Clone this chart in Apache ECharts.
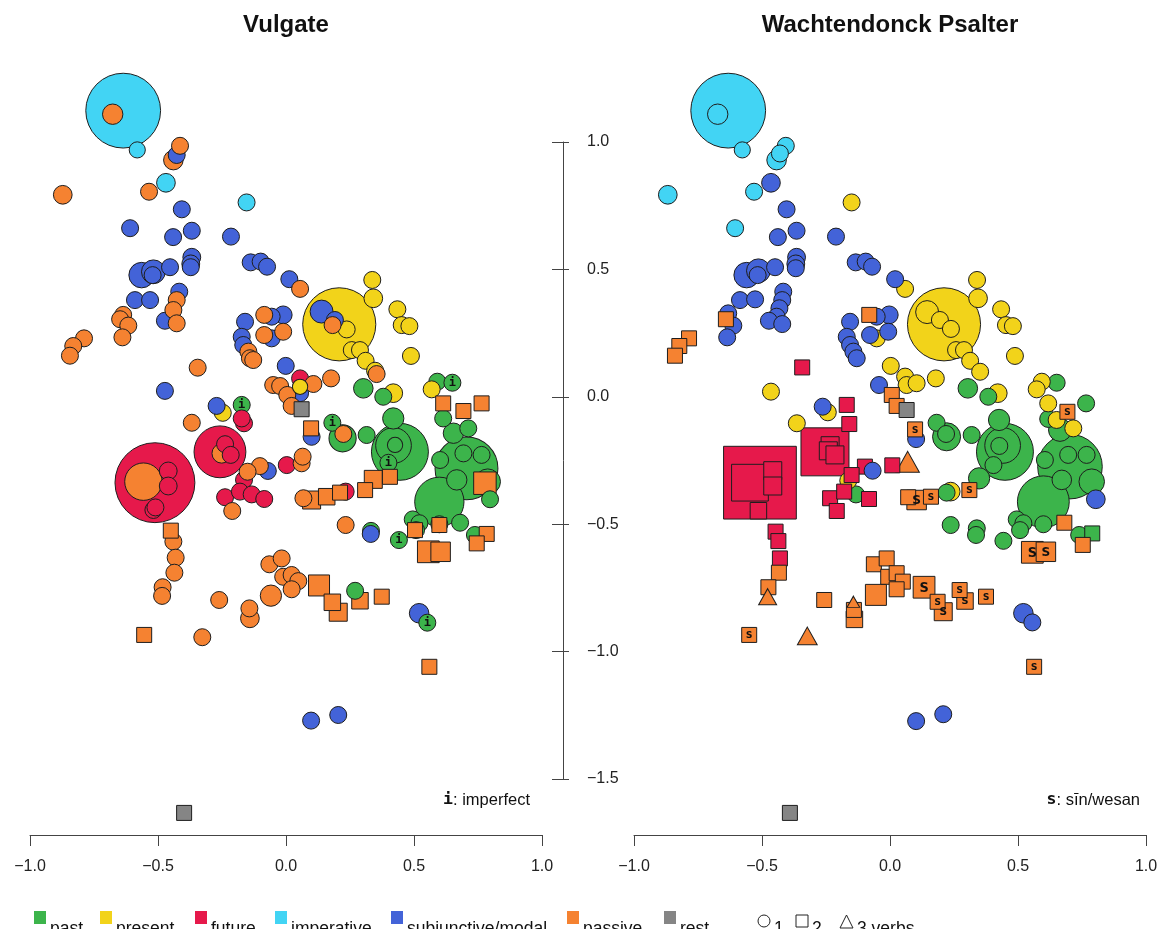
<!DOCTYPE html>
<html><head><meta charset="utf-8">
<script src="https://cdn.jsdelivr.net/npm/echarts@6/dist/echarts.min.js"></script>
<style>html,body{margin:0;padding:0;background:#fff}#c{width:1166px;height:929px}</style>
</head><body><div id="c"></div>
<script>
// ---- data ----
const panelTitles = ['Vulgate', 'Wachtendonck Psalter'];
const categories = ['past', 'present', 'future', 'imperative', 'subjunctive/modal', 'passive', 'rest'];
const verbLegend = ['1', '2', '3 verbs'];
const xTicks = [-1, -0.5, 0, 0.5, 1];
const yTicks = [-1.5, -1, -0.5, 0, 0.5, 1];
// each point: [x, y, relative size (cex), number of verbs (1 circle, 2 square, 3 triangle), mark]
const vulPast = [
 [0.302,0.034,1.15,1],[0.380,0.001,1,1],[0.591,0.060,1,1],[0.650,0.056,1,1,'i'],
 [-0.173,-0.031,1,1,'i'],[0.181,-0.101,1,1,'i'],[0.221,-0.162,1.6,1],[0.315,-0.149,1,1],
 [0.419,-0.084,1.25,1],[0.445,-0.215,3.35,1],[0.42,-0.19,2.1,1],[0.426,-0.188,0.9,1],[0.400,-0.258,1,1,'i'],
 [0.705,-0.280,3.7,1],[0.599,-0.411,2.9,1],[0.667,-0.325,1.2,1],[0.602,-0.247,1,1],
 [0.693,-0.221,1,1],[0.764,-0.227,1,1],[0.614,-0.084,1,1],[0.654,-0.142,1.2,1],
 [0.712,-0.123,1,1],[0.797,-0.401,1,1],[0.680,-0.493,1,1],[0.738,-0.541,1,1],
 [0.495,-0.480,1,1],[0.521,-0.495,1,1],[0.508,-0.522,1,1],[0.599,-0.499,1,1],
 [0.441,-0.561,1,1,'i'],[0.552,-0.885,1,1,'i'],[0.270,-0.760,1,1],[0.332,-0.525,1,1],
 [0.788,-0.332,1.5,1]
];
const vulPresent = [
 [0.208,0.285,4.3,1],[0.237,0.265,1,1],[0.337,0.459,1,1],[0.341,0.387,1.1,1],
 [0.435,0.344,1,1],[0.452,0.282,1,1],[0.482,0.278,1,1],[0.257,0.184,1,1],
 [0.289,0.184,1,1],[0.311,0.142,1,1],[0.348,0.103,1,1],[0.488,0.161,1,1],
 [0.419,0.015,1.1,1],[0.569,0.030,1,1],[-0.247,-0.062,1,1],[0.055,0.040,0.9,1]
];
const vulFuture = [
 [-0.512,-0.336,4.7,1],[-0.460,-0.290,1.05,1],[-0.460,-0.349,1.05,1],[-0.518,-0.443,1,1],
 [-0.510,-0.433,1,1],[-0.258,-0.215,3.05,1],[-0.238,-0.185,1,1],[-0.216,-0.227,1,1],
 [-0.164,-0.103,1,1],[-0.173,-0.084,1,1],[-0.164,-0.325,1,1],[-0.238,-0.393,1,1],
 [-0.180,-0.371,1,1],[-0.134,-0.382,1,1],[-0.085,-0.400,1,1],[0.003,-0.267,1,1],
 [0.055,0.073,1,1],[0.233,-0.371,1,1]
];
const vulImperative = [
 [-0.636,1.123,4.4,1],[-0.581,0.969,0.95,1],[-0.469,0.840,1.1,1],[-0.154,0.763,1,1]
];
const vulSubjunctive = [
 [-0.427,0.949,1,1],[-0.407,0.736,1,1],[-0.609,0.662,1,1],[-0.441,0.627,1,1],
 [-0.368,0.652,1,1],[-0.215,0.629,1,1],[-0.564,0.478,1.5,1],[-0.518,0.491,1.4,1],
 [-0.521,0.478,1,1],[-0.453,0.509,1,1],[-0.368,0.548,1.05,1],[-0.372,0.522,1.05,1],
 [-0.372,0.509,1,1],[-0.138,0.528,1,1],[-0.099,0.531,1,1],[-0.074,0.511,1,1],
 [0.013,0.462,1,1],[-0.590,0.380,1,1],[-0.531,0.380,1,1],[-0.417,0.413,1,1],
 [-0.473,0.299,1,1],[-0.160,0.295,1,1],[-0.173,0.236,1,1],[-0.167,0.204,1,1],
 [-0.056,0.315,1,1],[-0.011,0.322,1.05,1],[-0.056,0.230,1,1],[-0.001,0.122,1,1],
 [-0.473,0.024,1,1],[0.139,0.335,1.35,1],[0.191,0.302,1,1],[0.055,0.015,1,1],
 [-0.271,-0.035,1,1],[0.100,-0.156,1,1],[-0.071,-0.290,1,1],[0.331,-0.537,1,1],
 [0.520,-0.848,1.15,1],[0.098,-1.269,1,1],[0.204,-1.247,1,1]
];
const vulPassive = [
 [-0.677,1.109,1.2,1],[-0.414,0.985,1,1],[-0.440,0.929,1.15,1],[-0.535,0.805,1,1],
 [-0.872,0.793,1.1,1],[0.055,0.424,1,1],[-0.427,0.380,1,1],[-0.440,0.341,1,1],
 [-0.427,0.289,1,1],[-0.636,0.322,1,1],[-0.648,0.305,1,1],[-0.616,0.280,1,1],
 [-0.639,0.234,1,1],[-0.789,0.230,1,1],[-0.831,0.200,1,1],[-0.844,0.162,1,1],
 [-0.345,0.115,1,1],[-0.147,0.178,1,1],[-0.141,0.152,1,1],[-0.128,0.145,1,1],
 [-0.085,0.322,1,1],[-0.085,0.243,1,1],[-0.011,0.256,1,1],[-0.050,0.047,1,1],
 [-0.023,0.043,1,1],[0.107,0.051,1,1],[0.005,0.008,1,1],[0.022,-0.035,1,1],
 [0.176,0.073,1,1],[0.354,0.090,1,1],[0.182,0.282,1,1],[-0.368,-0.101,1,1],
 [-0.557,-0.332,2.2,1],[-0.251,-0.221,1.15,1],[-0.102,-0.271,1,1],[-0.150,-0.293,1,1],
 [-0.210,-0.447,1,1],[0.061,-0.260,1,1],[0.065,-0.234,1,1],[0.068,-0.397,1,1],
 [0.224,-0.145,1,1],[0.233,-0.502,1,1],[-0.440,-0.567,1,1],[-0.431,-0.630,1,1],
 [-0.436,-0.689,1,1],[-0.482,-0.746,1,1],[-0.484,-0.780,1,1],[-0.261,-0.796,1,1],
 [-0.065,-0.656,1,1],[-0.017,-0.633,1,1],[-0.011,-0.705,1,1],[0.022,-0.698,1,1],
 [0.048,-0.722,1,1],[0.022,-0.754,1,1],[-0.059,-0.779,1.25,1],[-0.143,-0.829,1,1],
 [-0.141,-0.868,1.1,1],[-0.327,-0.942,1,1],
 [0.098,-0.123,1,2],[0.614,-0.025,1,2],[0.693,-0.055,1,2],[0.764,-0.025,1,2],
 [0.406,-0.313,1,2],[0.341,-0.323,1.2,2],[0.309,-0.365,1,2],[0.100,-0.404,1.2,2],
 [0.159,-0.391,1.1,2],[0.211,-0.375,1,2],[0.777,-0.338,1.5,2],[0.504,-0.522,1,2],
 [0.599,-0.502,1,2],[0.556,-0.607,1.45,2],[0.604,-0.607,1.3,2],[0.784,-0.537,1,2],
 [0.745,-0.574,1,2],[-0.450,-0.524,1,2],[0.129,-0.739,1.4,2],[0.181,-0.805,1.1,2],
 [0.204,-0.844,1.2,2],[0.289,-0.799,1.1,2],[0.374,-0.783,1,2],[-0.554,-0.933,1,2],
 [0.560,-1.058,1,2]
];
const vulRest = [[0.061,-0.048,1,2],[-0.398,-1.631,1,2]];

const psaPast = [
 [0.304,0.034,1.15,1],[0.384,0.001,1,1],[0.651,0.056,1,1],[0.766,-0.025,1,1],
 [0.618,-0.086,1,1],[0.664,-0.129,1.35,1],[0.182,-0.101,1,1],[0.221,-0.156,1.65,1],
 [0.219,-0.145,1,1],[0.319,-0.149,1,1],[0.426,-0.090,1.25,1],[0.449,-0.215,3.35,1],
 [0.44,-0.19,2.1,1],[0.427,-0.192,1,1],[0.404,-0.267,1,1],[0.348,-0.319,1.25,1],[0.703,-0.273,3.8,1],
 [0.599,-0.411,3.05,1],[0.605,-0.247,1,1],[0.696,-0.227,1,1],[0.768,-0.227,1,1],
 [0.671,-0.325,1.15,1],[0.788,-0.332,1.5,1],[0.495,-0.480,1,1],[0.521,-0.495,1,1],
 [0.508,-0.522,1,1],[0.599,-0.499,1,1],[0.221,-0.375,1,1],[0.237,-0.502,1,1],
 [0.339,-0.515,1,1],[0.336,-0.541,1,1],[0.443,-0.564,1,1],[0.739,-0.541,1,1],
 [-0.133,-0.382,1,1],[0.790,-0.535,1,2]
];
const psaPresent = [
 [-0.150,0.763,1,1],[0.059,0.424,1,1],[0.211,0.285,4.3,1],[0.145,0.333,1.35,1],
 [0.195,0.302,1,1],[0.238,0.267,1,1],[0.340,0.459,1,1],[0.344,0.387,1.1,1],
 [0.434,0.344,1,1],[0.453,0.282,1,1],[0.480,0.278,1,1],[0.258,0.184,1,1],
 [0.289,0.184,1,1],[0.313,0.142,1,1],[0.352,0.099,1,1],[0.488,0.161,1,1],
 [-0.052,0.230,1,1],[0.003,0.122,1,1],[0.059,0.080,1,1],[0.065,0.047,1,1],
 [0.104,0.054,1,1],[0.179,0.073,1,1],[0.421,0.015,1.1,1],[0.593,0.060,1,1],
 [0.573,0.030,1,1],[0.618,-0.025,1,1],[0.651,-0.090,1,1],[0.716,-0.123,1,1],
 [-0.465,0.021,1,1],[-0.243,-0.060,1,1],[-0.364,-0.103,1,1],[-0.163,-0.328,1,1],
 [0.237,-0.371,1.1,1]
];
const psaFuture = [
 [-0.508,-0.336,4.85,2],[-0.547,-0.336,2.45,2],[-0.458,-0.289,1.2,2],[-0.458,-0.349,1.2,2],
 [-0.514,-0.446,1.1,2],[-0.254,-0.215,3.2,2],[-0.234,-0.191,1.2,2],[-0.241,-0.211,1.2,2],
 [-0.215,-0.227,1.2,2],[-0.169,-0.031,1,2],[-0.159,-0.106,1,2],[-0.343,0.116,1,2],
 [-0.098,-0.273,1,2],[-0.150,-0.306,1,2],[0.009,-0.268,1,2],[-0.234,-0.397,1,2],
 [-0.179,-0.371,1,2],[-0.082,-0.400,1,2],[-0.208,-0.447,1,2],[-0.447,-0.528,1,2],
 [-0.436,-0.565,1,2],[-0.430,-0.633,1,2]
];
const psaImperative = [
 [-0.632,1.123,4.4,1],[-0.673,1.109,1.2,1],[-0.577,0.969,0.95,1],[-0.407,0.985,1,1],
 [-0.443,0.929,1.15,1],[-0.430,0.955,1,1],[-0.531,0.805,1,1],[-0.868,0.793,1.1,1],
 [-0.605,0.662,1,1]
];
const psaSubjunctive = [
 [-0.465,0.840,1.1,1],[-0.404,0.736,1,1],[-0.438,0.627,1,1],[-0.365,0.652,1,1],
 [-0.211,0.629,1,1],[-0.560,0.478,1.5,1],[-0.514,0.495,1.4,1],[-0.517,0.478,1,1],
 [-0.449,0.509,1,1],[-0.365,0.548,1.05,1],[-0.368,0.522,1.05,1],[-0.368,0.505,1,1],
 [-0.134,0.528,1,1],[-0.095,0.531,1,1],[-0.070,0.511,1,1],[0.020,0.462,1,1],
 [-0.586,0.380,1,1],[-0.527,0.383,1,1],[-0.417,0.413,1,1],[-0.421,0.380,1,1],
 [-0.432,0.348,1,1],[-0.443,0.315,1,1],[-0.473,0.299,1,1],[-0.421,0.286,1,1],
 [-0.632,0.328,1,1],[-0.612,0.280,1,1],[-0.636,0.234,1,1],[-0.052,0.315,1,1],
 [-0.003,0.322,1.05,1],[-0.078,0.243,1,1],[-0.007,0.256,1,1],[-0.156,0.295,1,1],
 [-0.169,0.236,1,1],[-0.156,0.204,1,1],[-0.143,0.178,1,1],[-0.130,0.152,1,1],
 [-0.043,0.047,1,1],[-0.263,-0.038,1,1],[0.102,-0.165,1,1],[-0.068,-0.289,1,1],
 [0.804,-0.401,1.1,1],[0.521,-0.848,1.15,1],[0.556,-0.884,1,1],[0.102,-1.271,1,1],
 [0.208,-1.244,1,1]
];
const psaPassive = [
 [-0.641,0.305,1,2],[-0.785,0.230,1,2],[-0.823,0.200,1,2],[-0.840,0.162,1,2],
 [-0.081,0.322,1,2],[0.007,0.008,1,2],[0.026,-0.035,1,2],[0.098,-0.127,1,2,'s'],
 [0.693,-0.058,1,2,'s'],[0.681,-0.493,1,2],[0.753,-0.580,1,2],[0.071,-0.393,1,2],
 [0.104,-0.404,1.3,2,'s'],[0.160,-0.391,1,2,'s'],[0.310,-0.365,1,2,'s'],[0.556,-0.609,1.45,2,'s'],
 [0.609,-0.607,1.3,2,'s'],[-0.434,-0.689,1,2],[-0.475,-0.746,1,2],[-0.063,-0.656,1,2],
 [-0.013,-0.633,1,2],[-0.007,-0.705,1,2],[0.026,-0.691,1,2],[0.050,-0.724,1,2],
 [0.026,-0.754,1,2],[-0.055,-0.776,1.4,2],[0.133,-0.746,1.45,2,'s'],[0.186,-0.803,1,2,'s'],
 [0.208,-0.842,1.2,2,'s'],[0.272,-0.757,1,2,'s'],[0.293,-0.800,1.1,2,'s'],[0.375,-0.783,1,2,'s'],
 [-0.257,-0.796,1,2],[-0.141,-0.835,1,2],[-0.139,-0.872,1.1,2],[-0.550,-0.933,1,2,'s'],
 [0.563,-1.058,1,2,'s'],
 [0.069,-0.254,1.3,3],[-0.478,-0.783,1,3],[-0.143,-0.803,0.7,3],[-0.323,-0.937,1.1,3]
];
const psaRest = [[0.065,-0.051,1,2],[-0.391,-1.631,1,2]];

// ---- styling ----
const COLORS = ['#3cb44b', '#f2d31a', '#e6194b', '#42d4f4', '#4363d8', '#f58231', '#858585'];
const FONT = '"Liberation Sans", Arial, Helvetica, sans-serif';

function buildData(groups) {
  const pts = [];
  groups.forEach((arr, ci) => arr.forEach(p => pts.push({ p, color: COLORS[ci] })));
  pts.sort((a, b) => b.p[2] - a.p[2]);
  return pts.map(({ p, color }) => {
    const [x, y, cex, verbs, mark] = p;
    let symbol, size;
    if (verbs === 1) { symbol = 'circle'; size = 17 * cex; }
    else if (verbs === 2) { symbol = 'rect'; size = 15 * cex; }
    else { symbol = 'triangle'; size = [18 * cex, 16 * cex]; }
    return {
      value: [x, y], symbol, symbolSize: size,
      itemStyle: { color, borderColor: '#1e1e1e', borderWidth: 1, opacity: 1 },
      label: mark ? { show: true, position: 'inside', formatter: mark, fontFamily: '"DejaVu Sans Mono", monospace',
        fontWeight: 'bold', fontSize: Math.round(12 * cex), color: '#111' } : { show: false }
    };
  });
}
const fmt = v => (v < 0 ? '\u2212' : '') + Math.abs(v).toFixed(1);

const chart = echarts.init(document.getElementById('c'), null, { renderer: 'canvas' });
const Y0 = -1.7176, Y1 = 1.4;
const xAxisCfg = (gi) => ({
  gridIndex: gi, type: 'value', min: xTicks[0], max: xTicks[xTicks.length - 1], interval: xTicks[1] - xTicks[0],
  axisLine: { show: true, onZero: false, lineStyle: { color: '#444', width: 1 } },
  axisTick: { show: true, length: 11, lineStyle: { color: '#444' } },
  axisLabel: { show: true, margin: 24, fontSize: 16, fontFamily: FONT, color: '#222', formatter: fmt, showMinLabel: true, showMaxLabel: true },
  splitLine: { show: false }
});
const hiddenY = (gi) => ({ gridIndex: gi, type: 'value', min: Y0, max: Y1, show: false, splitLine: { show: false } });

const legendItems = [];
const legX = [34, 100, 195, 275, 391, 567, 664];
const LFONT = '17.5px ' + FONT;
categories.forEach((c, i) => {
  legendItems.push({ type: 'rect', shape: { x: legX[i], y: 911, width: 12, height: 13 }, style: { fill: COLORS[i] } });
  legendItems.push({ type: 'text', x: legX[i] + 16, y: 929, style: { text: c, font: LFONT, fill: '#111', align: 'left', verticalAlign: 'middle' } });
});
legendItems.push({ type: 'circle', shape: { cx: 764, cy: 921, r: 6 }, style: { fill: 'none', stroke: '#222', lineWidth: 1 } });
legendItems.push({ type: 'text', x: 774, y: 929, style: { text: verbLegend[0], font: LFONT, fill: '#111', verticalAlign: 'middle' } });
legendItems.push({ type: 'rect', shape: { x: 796, y: 915, width: 12, height: 12 }, style: { fill: 'none', stroke: '#222', lineWidth: 1 } });
legendItems.push({ type: 'text', x: 812, y: 929, style: { text: verbLegend[1], font: LFONT, fill: '#111', verticalAlign: 'middle' } });
legendItems.push({ type: 'polygon', shape: { points: [[840, 928], [853, 928], [846.5, 915]] }, style: { fill: 'none', stroke: '#222', lineWidth: 1 } });
legendItems.push({ type: 'text', x: 857, y: 929, style: { text: verbLegend[2], font: LFONT, fill: '#111', verticalAlign: 'middle' } });

const option = {
  animation: false,
  backgroundColor: '#fff',
  grid: [
    { left: 30, top: 40, width: 512, height: 795 },
    { left: 634, top: 40, width: 512, height: 795 },
    { left: 553, top: 142, width: 10, height: 637 }
  ],
  xAxis: [xAxisCfg(0), xAxisCfg(1), { gridIndex: 2, type: 'value', show: false, min: 0, max: 1 }],
  yAxis: [
    hiddenY(0), hiddenY(1),
    { gridIndex: 2, type: 'value', position: 'right', min: yTicks[0], max: yTicks[yTicks.length - 1], interval: 0.5,
      axisLine: { show: true, onZero: false, lineStyle: { color: '#444' } }, axisTick: { show: true, length: 6, lineStyle: { color: '#444' } },
      axisLabel: { show: true, margin: 24, fontSize: 16, fontFamily: FONT, color: '#222', formatter: fmt, showMinLabel: true, showMaxLabel: true },
      splitLine: { show: false } },
    { gridIndex: 2, type: 'value', position: 'right', min: yTicks[0], max: yTicks[yTicks.length - 1], interval: 0.5,
      axisLine: { show: false, onZero: false }, axisTick: { show: true, inside: true, length: 11, lineStyle: { color: '#444' } },
      axisLabel: { show: false }, splitLine: { show: false } }
  ],
  series: [
    { type: 'scatter', xAxisIndex: 0, yAxisIndex: 0, silent: true,
      data: buildData([vulPast, vulPresent, vulFuture, vulImperative, vulSubjunctive, vulPassive, vulRest]) },
    { type: 'scatter', xAxisIndex: 1, yAxisIndex: 1, silent: true,
      data: buildData([psaPast, psaPresent, psaFuture, psaImperative, psaSubjunctive, psaPassive, psaRest]) }
  ],
  graphic: [
    { type: 'text', x: 286, y: 25, style: { text: panelTitles[0], font: 'bold 24px ' + FONT, fill: '#111', align: 'center', verticalAlign: 'middle' } },
    { type: 'text', x: 890, y: 25, style: { text: panelTitles[1], font: 'bold 24px ' + FONT, fill: '#111', align: 'center', verticalAlign: 'middle' } },
    { type: 'text', x: 530, y: 800, style: { text: '{b|i}: imperfect', font: '16.5px ' + FONT, fill: '#111', align: 'right', verticalAlign: 'middle',
      rich: { b: { fontFamily: '"DejaVu Sans Mono", monospace', fontWeight: 'bold', fontSize: 16.5 } } } },
    { type: 'text', x: 1140, y: 800, style: { text: '{b|s}: s\u012bn/wesan', font: '16.5px ' + FONT, fill: '#111', align: 'right', verticalAlign: 'middle',
      rich: { b: { fontFamily: '"DejaVu Sans Mono", monospace', fontWeight: 'bold', fontSize: 16.5 } } } },
    ...legendItems
  ]
};
chart.setOption(option);
</script>
</body></html>
